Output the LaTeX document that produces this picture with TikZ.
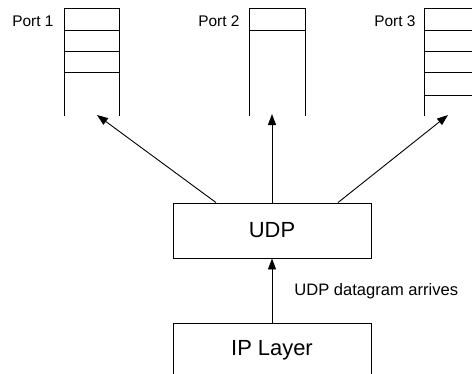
\documentclass[tikz,border=0pt]{standalone}
\usepackage{fontspec}
\setmainfont{Liberation Sans}
\usetikzlibrary{calc,arrows.meta,positioning}

\begin{document}
\begin{tikzpicture}[x=1bp,y=-1bp,line width=0.9bp,
  layerbox/.style={draw,minimum width=198bp,minimum height=55bp,inner sep=0pt,font=\fontsize{22}{26}\selectfont},
  portlabel/.style={anchor=base east,inner sep=0pt,font=\fontsize{15.5}{18}\selectfont},
  tip/.style={-{Triangle[length=11bp,width=8bp]}}]
\useasboundingbox (0,0) rectangle (472,373);

% queues, open at the bottom
\draw (64,116) -- (64,8) -- (119,8) -- (119,116);
\foreach \y in {30,51,72} \draw (64,\y) -- (119,\y);
\draw (249,116) -- (249,8) -- (305,8) -- (305,116);
\draw (249,30) -- (305,30);
\draw (424,116) -- (424,8) -- (479,8) -- (479,116);
\foreach \y in {30,51,72,95} \draw (424,\y) -- (479,\y);

\node[portlabel] (p1) at (54,26) {Port 1};
\node[portlabel] (p2) at (240,26) {Port 2};
\node[portlabel] (p3) at (416,26) {Port 3};

\coordinate (q1) at (97,115);
\coordinate (q2) at (272,114);
\coordinate (q3) at (448,115);

\node[layerbox] (udp) at (272,230.5) {UDP};
\node[layerbox] (ip) at (272,350.5) {IP Layer};

\draw[tip] ($(udp.north)+(-56,0)$) -- (q1);
\draw[tip] (udp.north) -- (q2);
\draw[tip] ($(udp.north)+(66,0)$) -- (q3);
\draw[tip] (ip) -- (udp);
\node[anchor=base west,inner sep=0pt,font=\fontsize{16.6}{19}\selectfont] (arr) at (294,295) {UDP datagram arrives};

\end{tikzpicture}
\end{document}
